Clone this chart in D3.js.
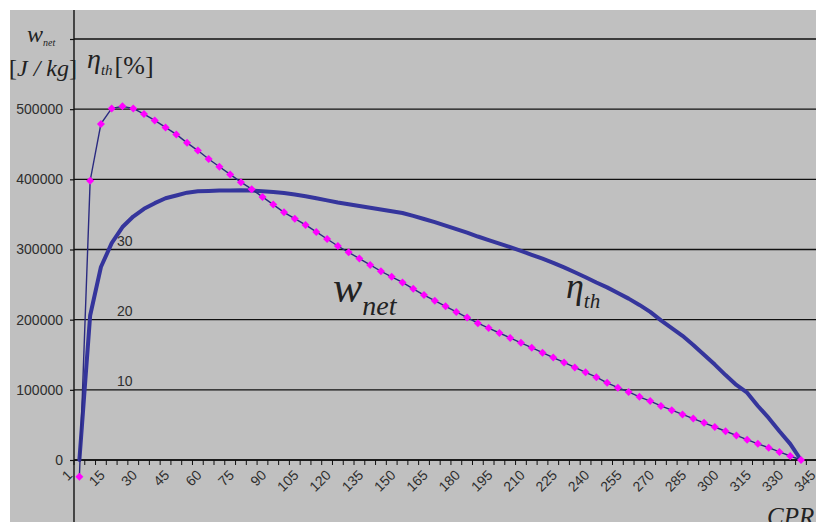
<!DOCTYPE html>
<html>
<head>
<meta charset="utf-8">
<title>w_net and eta_th vs CPR</title>
<script src="https://d3js.org/d3.v7.min.js"></script>
<style>
  body { margin: 0; background: #fff; }
  svg { display: block; }
  .tick-label { font-family: "Liberation Sans", Arial, sans-serif; font-size: 14px; fill: #2e2e2e; }
  .serif { font-family: "Liberation Serif", "Times New Roman", serif; fill: #222; }
</style>
</head>
<body>
<script>
// categories on the x axis (CPR)
const cpr = [1, 5, 10, 15, 20, 25, 30, 35, 40, 45, 50, 55, 60, 65, 70, 75, 80, 85, 90, 95,
  100, 105, 110, 115, 120, 125, 130, 135, 140, 145, 150, 155, 160, 165, 170, 175, 180, 185, 190, 195,
  200, 205, 210, 215, 220, 225, 230, 235, 240, 245, 250, 255, 260, 265, 270, 275, 280, 285, 290, 295,
  300, 305, 310, 315, 320, 325, 330, 335, 340, 345];

// net work [J/kg], one value per category (ends at CPR 335)
const wNet = [-24000, 398000, 479000, 501000, 504000, 501000, 493000, 484000, 474000, 464000,
  452000, 441000, 429000, 418000, 407000, 396000, 386000, 375000, 364000, 353000,
  344000, 335000, 325000, 315000, 305000, 296000, 287000, 278000, 269000, 261000,
  253000, 244000, 235000, 227000, 219000, 211000, 203000, 195000, 188000, 181000,
  174000, 167000, 160000, 153000, 146000, 139000, 132000, 125000, 118000, 110000,
  103000, 97000, 90000, 84000, 77000, 71000, 65000, 59000, 53000, 47000,
  41000, 35000, 29000, 23000, 17500, 11500, 5700, 0];

// thermal efficiency [%]
const etaTh = [0, 20.6, 27.5, 30.9, 33.2, 34.7, 35.8, 36.6, 37.3, 37.7,
  38.1, 38.3, 38.35, 38.4, 38.4, 38.45, 38.4, 38.3, 38.2, 38.05,
  37.85, 37.6, 37.3, 37.0, 36.7, 36.45, 36.2, 35.95, 35.7, 35.45,
  35.2, 34.8, 34.35, 33.9, 33.4, 32.9, 32.4, 31.85, 31.35, 30.85,
  30.35, 29.8, 29.25, 28.7, 28.1, 27.45, 26.75, 26.05, 25.3, 24.6,
  23.8, 23.0, 22.1, 21.1, 19.9, 18.8, 17.7, 16.4, 15.0, 13.6,
  12.1, 10.7, 9.6, 7.7, 6.0, 4.1, 2.3, 0];

const yTicks = [0, 100000, 200000, 300000, 400000, 500000, 600000];
const etaLabels = [10, 20, 30];

const W = 816, H = 522;
const plotLeft = 74, plotTop = 39, zeroY = 460;
const step = 10.77;

const svg = d3.select('body').append('svg').attr('width', W).attr('height', H);

svg.append('rect').attr('x', 10).attr('y', 10).attr('width', W - 10).attr('height', H - 10)
  .attr('fill', '#c0c0c0');

const x = d3.scaleBand().domain(cpr).range([plotLeft, plotLeft + cpr.length * step]).padding(0);
const y = d3.scaleLinear().domain([0, 600000]).range([zeroY, plotTop]);
const yEta = d3.scaleLinear().domain([0, 60]).range([zeroY, plotTop]);
const cx = (c) => x(c) + x.bandwidth() / 2;

// gridlines
svg.append('g').selectAll('line').data(yTicks).enter().append('line')
  .attr('x1', plotLeft).attr('x2', W).attr('y1', d => y(d)).attr('y2', d => y(d))
  .attr('stroke', '#111').attr('stroke-width', 1.4);

// y axis
const yAxis = d3.axisLeft(y).tickValues(yTicks).tickSize(4).tickPadding(7)
  .tickFormat(d => d === 600000 ? '' : d);
const gy = svg.append('g').attr('transform', 'translate(' + plotLeft + ',0)').call(yAxis);
gy.select('.domain').remove();
gy.selectAll('.tick line').attr('stroke', '#111').attr('stroke-width', 1.2);
gy.selectAll('.tick text').attr('class', 'tick-label').attr('fill', null);
gy.attr('font-family', null).attr('font-size', null);
svg.append('line').attr('x1', plotLeft).attr('x2', plotLeft).attr('y1', 10).attr('y2', H)
  .attr('stroke', '#111').attr('stroke-width', 1.4);

// x axis: line, ticks at category boundaries, labels every 3rd category
svg.append('line').attr('x1', plotLeft).attr('x2', W).attr('y1', zeroY).attr('y2', zeroY)
  .attr('stroke', '#111').attr('stroke-width', 1.4);
svg.append('g').selectAll('line').data(cpr).enter().append('line')
  .attr('x1', d => x(d)).attr('x2', d => x(d))
  .attr('y1', zeroY).attr('y2', zeroY + 5)
  .attr('stroke', '#111').attr('stroke-width', 1);
svg.append('g').selectAll('text').data(cpr.filter((d, i) => i % 3 === 0)).enter().append('text')
  .attr('class', 'tick-label')
  .attr('text-anchor', 'end')
  .attr('transform', d => 'translate(' + (cx(d) - 6) + ',' + (zeroY + 16) + ') rotate(-45)')
  .text(d => d);

// eta labels (secondary scale written inside the plot)
svg.append('g').selectAll('text').data(etaLabels).enter().append('text')
  .attr('class', 'tick-label')
  .attr('x', 117).attr('y', d => yEta(d) - 4)
  .text(d => d);

// eta_th curve
const etaLine = d3.line().x((d, i) => cx(cpr[i])).y(d => yEta(d));
svg.append('path').datum(etaTh).attr('d', etaLine)
  .attr('fill', 'none').attr('stroke', '#35359c').attr('stroke-width', 4)
  .attr('stroke-linejoin', 'round').attr('stroke-linecap', 'round');

// w_net line with markers
const wLine = d3.line().x((d, i) => cx(cpr[i])).y(d => y(d));
svg.append('path').datum(wNet).attr('d', wLine)
  .attr('fill', 'none').attr('stroke', '#2a2a80').attr('stroke-width', 1.4);
svg.append('g').selectAll('path').data(wNet).enter().append('path')
  .attr('d', d3.symbol().type(d3.symbolSquare).size(32))
  .attr('transform', (d, i) => 'translate(' + cx(cpr[i]) + ',' + y(d) + ') rotate(45)')
  .attr('fill', '#ff00ff');

// axis titles
const t1 = svg.append('text').attr('class', 'serif').attr('x', 27).attr('y', 42);
t1.append('tspan').attr('font-style', 'italic').attr('font-size', 24).text('w');
t1.append('tspan').attr('font-style', 'italic').attr('font-size', 10).attr('dy', 4).text('net');

const t2 = svg.append('text').attr('class', 'serif').attr('x', 9).attr('y', 76).attr('font-size', 24);
t2.append('tspan').text('[');
t2.append('tspan').attr('font-style', 'italic').text('J / kg');
t2.append('tspan').text(']');

const t3 = svg.append('text').attr('class', 'serif').attr('x', 87).attr('y', 68);
t3.append('tspan').attr('font-style', 'italic').attr('font-size', 28).text('η');
t3.append('tspan').attr('font-style', 'italic').attr('font-size', 15).attr('dy', 7).text('th');
t3.append('tspan').attr('font-size', 26).attr('dy', -1).attr('dx', 2).text('[%]');

// curve labels
const t4 = svg.append('text').attr('class', 'serif').attr('x', 333).attr('y', 302);
t4.append('tspan').attr('font-style', 'italic').attr('font-size', 44).text('w');
t4.append('tspan').attr('font-style', 'italic').attr('font-size', 28).attr('dy', 13).text('net');

const t5 = svg.append('text').attr('class', 'serif').attr('x', 566).attr('y', 298);
t5.append('tspan').attr('font-style', 'italic').attr('font-size', 36).text('η');
t5.append('tspan').attr('font-style', 'italic').attr('font-size', 21).attr('dy', 10).text('th');

svg.append('text').attr('class', 'serif').attr('x', 767).attr('y', 525)
  .attr('font-style', 'italic').attr('font-size', 25).text('CPR');
</script>
</body>
</html>
